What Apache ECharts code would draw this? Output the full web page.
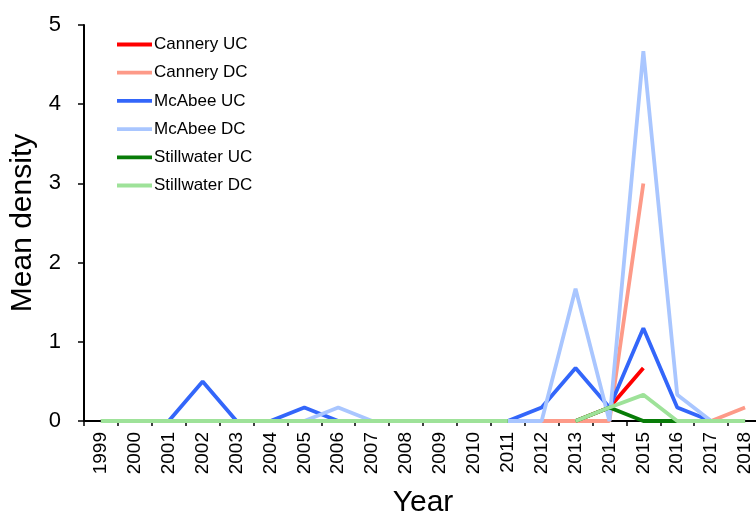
<!DOCTYPE html>
<html>
<head>
<meta charset="utf-8">
<script src="https://cdn.jsdelivr.net/npm/echarts@6/dist/echarts.min.js"></script>
<style>
  html, body { margin: 0; padding: 0; background: #fff; }
  #chart { width: 756px; height: 512px; }
</style>
</head>
<body>
<div id="chart"></div>
<script>
const years = ['1999', '2000', '2001', '2002', '2003', '2004', '2005', '2006', '2007', '2008',
  '2009', '2010', '2011', '2012', '2013', '2014', '2015', '2016', '2017', '2018'];

const canneryUC = [0, 0, 0, 0, 0, 0, 0, 0, 0, 0, 0, 0, 0, 0, 0, 0.17, 0.67, null, 0, 0];
const canneryDC = [0, 0, 0, 0, 0, 0, 0, 0, 0, 0, 0, 0, 0, 0, 0, 0, 3.0, null, 0, 0.17];
const mcabeeUC = [0, 0, 0, 0.5, 0, 0, 0.17, 0, 0, 0, 0, 0, 0, 0.17, 0.67, 0.17, 1.17, 0.17, 0, 0];
const mcabeeDC = [0, 0, 0, 0, 0, 0, 0, 0.17, 0, 0, 0, 0, 0, 0, 1.67, 0, 4.67, 0.33, 0, 0];
const stillwaterUC = [0, 0, 0, 0, 0, 0, 0, 0, 0, 0, 0, 0, 0, null, 0, 0.17, 0, 0, 0, 0];
const stillwaterDC = [0, 0, 0, 0, 0, 0, 0, 0, 0, 0, 0, 0, 0, null, 0, 0.17, 0.33, 0, 0, 0];

const yTicks = [0, 1, 2, 3, 4, 5];

const chart = echarts.init(document.getElementById('chart'));

const makeSeries = (name, data, color) => ({
  name: name,
  type: 'line',
  data: data,
  showSymbol: false,
  connectNulls: false,
  lineStyle: { color: color, width: 3.8 },
  itemStyle: { color: color },
  emphasis: { disabled: true }
});

chart.setOption({
  animation: false,
  textStyle: { fontFamily: 'Liberation Sans, Arial, sans-serif' },
  grid: {
    left: 84,
    top: 25,
    width: 678,
    height: 396,
    outerBoundsMode: 'none'
  },
  legend: {
    orient: 'vertical',
    left: 117,
    top: 36,
    padding: 0,
    icon: 'rect',
    itemWidth: 35,
    itemHeight: 3.8,
    itemGap: 11.2,
    textStyle: { color: '#000', fontSize: 17, padding: [0, 0, 0, -3] },
    data: ['Cannery UC', 'Cannery DC', 'McAbee UC', 'McAbee DC', 'Stillwater UC', 'Stillwater DC']
  },
  xAxis: {
    type: 'category',
    data: years,
    boundaryGap: true,
    name: 'Year',
    nameLocation: 'middle',
    nameGap: 67,
    nameTextStyle: { color: '#000', fontSize: 30 },
    axisLine: { lineStyle: { color: '#000', width: 2 } },
    axisTick: { show: true, length: 5, lineStyle: { color: '#000', width: 1.5 } },
    axisLabel: { rotate: 90, color: '#000', fontSize: 19, margin: 11, interval: 0 },
    splitLine: { show: false }
  },
  yAxis: {
    type: 'value',
    min: 0,
    max: 5,
    interval: 1,
    name: 'Mean density',
    nameLocation: 'middle',
    nameGap: 45,
    nameTextStyle: { color: '#000', fontSize: 30 },
    axisLine: { show: true, lineStyle: { color: '#000', width: 2 } },
    axisTick: { show: true, inside: false, length: 6, lineStyle: { color: '#000', width: 1.5 } },
    axisLabel: {
      color: '#000',
      fontSize: 22,
      margin: 23,
      formatter: v => (yTicks.includes(v) ? String(v) : '')
    },
    splitLine: { show: false }
  },
  series: [
    makeSeries('Cannery UC', canneryUC, '#ff0000'),
    makeSeries('Cannery DC', canneryDC, '#fd9a88'),
    makeSeries('McAbee UC', mcabeeUC, '#3366fa'),
    makeSeries('McAbee DC', mcabeeDC, '#a9c6ff'),
    makeSeries('Stillwater UC', stillwaterUC, '#087c08'),
    makeSeries('Stillwater DC', stillwaterDC, '#9ee299')
  ]
});

window.addEventListener('resize', () => chart.resize());
</script>
</body>
</html>
